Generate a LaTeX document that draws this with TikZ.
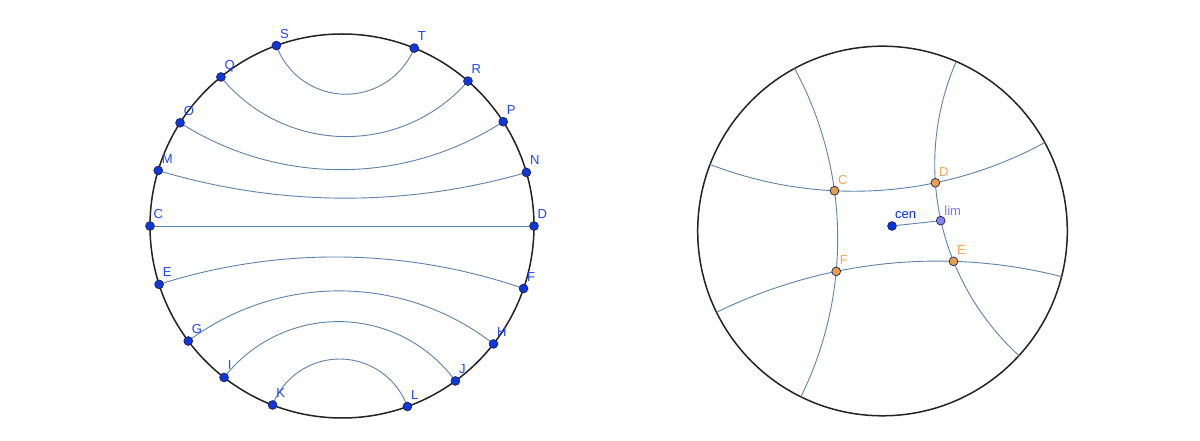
\documentclass[tikz,border=0pt]{standalone}
\usepackage{fontspec}
\setmainfont{Liberation Sans}
\usetikzlibrary{calc,intersections}
\definecolor{geocol}{RGB}{95,130,170}
\definecolor{rimcol}{RGB}{35,35,35}
\definecolor{bluept}{RGB}{15,55,220}
\definecolor{bluelab}{RGB}{30,70,255}
\definecolor{ptedge}{RGB}{30,35,80}
\definecolor{orangept}{RGB}{232,158,75}
\definecolor{orangelab}{RGB}{240,165,85}
\definecolor{limpt}{RGB}{130,130,240}
\definecolor{limlab}{RGB}{120,120,240}
\definecolor{cenpt}{RGB}{0,50,230}
\definecolor{cenlab}{RGB}{0,40,255}
\tikzset{
  geo/.style={draw=geocol,line width=0.9},
  rim/.style={draw=rimcol,line width=1.5},
  ptbase/.style={circle,inner sep=0pt,minimum size=8.8,draw=ptedge,line width=0.7},
  bpt/.style={ptbase,fill=bluept},
  opt/.style={ptbase,fill=orangept},
  lpt/.style={ptbase,fill=limpt},
  cpt/.style={ptbase,fill=cenpt},
  lab/.style={inner sep=0pt,anchor=base west,font=\fontsize{13}{15}\selectfont},
}
\newcommand{\hgeo}[5][]{%
  \pgfmathsetmacro\geoM{(#4+#5)/2}%
  \pgfmathsetmacro\geoH{(#5-#4)/2}%
  \pgfmathsetmacro\geoR{#3*tan(\geoH)}%
  \draw[geo,#1] (#2) arc[start angle=\geoM+270-\geoH, end angle=\geoM+90+\geoH, radius=\geoR];%
}
\begin{document}
\begin{tikzpicture}[x=1pt,y=1pt]
\useasboundingbox (0,0) rectangle (1200,441);
\fill[white] (0,0) rectangle (1200,441);
% ---------- left disk ----------
\coordinate (LO) at (342,215);
\draw[rim] (LO) circle[radius=192];
\foreach \n/\a in {S/110.0,T/67.9,Q/129.1,R/49.0,O/147.5,P/32.9,M/163.2,N/16.2,C/180,D/0,E/197.7,F/341.0,G/216.8,H/322.1,I/232.1,J/306.2,K/248.8,L/289.9}{
  \coordinate (p\n) at ($(LO)+(\a:192)$);
}
\foreach \s/\a/\b in {T/67.9/110.0,R/49.0/129.1,P/32.9/147.5,N/16.2/163.2,E/197.7/341.0,G/216.8/322.1,I/232.1/306.2,K/248.8/289.9}{
  \hgeo{p\s}{192}{\a}{\b}
}
\draw[geo] (pC) -- (pD);
\foreach \n in {S,T,Q,R,O,P,M,N,C,D,E,F,G,H,I,J,K,L}{
  \node[bpt] (\n) at (p\n) {};
  \node[lab,text=bluelab] (l\n) at ($(p\n)+(3.5,7.5)$) {\n};
}
% ---------- right disk ----------
\coordinate (RO) at (882.5,210);
\draw[rim] (RO) circle[radius=184.8];
\coordinate (g1a) at ($(RO)+(118.4:184.8)$);
\coordinate (g2a) at ($(RO)+(-42.4:184.8)$);
\coordinate (g3a) at ($(RO)+(28.6:184.8)$);
\coordinate (g4a) at ($(RO)+(206.1:184.8)$);
\hgeo[name path=g1]{g1a}{184.8}{118.4}{243.8}
\hgeo[name path=g2]{g2a}{184.8}{-42.4}{66.5}
\hgeo[name path=g3]{g3a}{184.8}{28.6}{158.9}
\hgeo[name path=g4]{g4a}{184.8}{206.1}{345.7}
\path[name intersections={of=g1 and g3,by=iC}];
\path[name intersections={of=g2 and g3,by=iD}];
\path[name intersections={of=g1 and g4,by=iF}];
\path[name intersections={of=g2 and g4,by=iE}];
\node[cpt] (cen) at (892,215) {};
\node[lpt] (lim) at (940.7,220.3) {};
\draw[geo] (cen) -- (lim);
\foreach \n in {C,D,E,F}{
  \node[opt] (r\n) at (i\n) {};
  \node[lab,text=orangelab] (lr\n) at ($(i\n)+(3.5,6.5)$) {\n};
}
\node[lab,text=cenlab] (lcen) at ($(cen)+(3,7.3)$) {cen};
\node[lab,text=limlab] (llim) at ($(lim)+(3.5,5.6)$) {lim};
\end{tikzpicture}
\end{document}
